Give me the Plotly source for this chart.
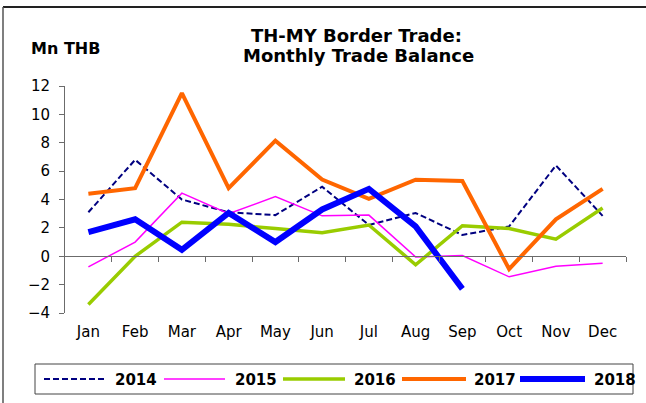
import plotly.graph_objects as go

# Monthly trade balance, TH-MY border trade (million THB)
months = ["Jan", "Feb", "Mar", "Apr", "May", "Jun",
          "Jul", "Aug", "Sep", "Oct", "Nov", "Dec"]
years = ["2014", "2015", "2016", "2017", "2018"]
bal_2014 = [3.1, 6.8, 4.0, 3.1, 2.9, 4.9, 2.2, 3.05, 1.5, 2.1, 6.4, 2.85]
bal_2015 = [-0.75, 1.0, 4.45, 3.0, 4.2, 2.85, 2.9, -0.05, 0.05, -1.45, -0.7, -0.5]
bal_2016 = [-3.4, 0.0, 2.4, 2.25, 1.95, 1.65, 2.2, -0.6, 2.15, 1.95, 1.2, 3.4]
bal_2017 = [4.4, 4.8, 11.5, 4.8, 8.15, 5.4, 4.05, 5.4, 5.3, -0.9, 2.6, 4.75]
bal_2018 = [1.7, 2.6, 0.45, 3.05, 1.0, 3.3, 4.75, 2.1, -2.3, None, None, None]
y_ticks = [-4, -2, 0, 2, 4, 6, 8, 10, 12]

series = [bal_2014, bal_2015, bal_2016, bal_2017, bal_2018]
styles = [
    dict(color="#000080", width=2, dash="6px,3px"),
    dict(color="#FF00FF", width=1.5, dash="solid"),
    dict(color="#99CC00", width=3.5, dash="solid"),
    dict(color="#FF6600", width=4, dash="solid"),
    dict(color="#0000FF", width=6, dash="solid"),
]

W, H = 646, 403
ML, MR, MT, MB = 65, 20, 86, 90
PW, PH = W - ML - MR, H - MT - MB
FONT = "DejaVu Sans, Arial, sans-serif"
AXIS = "#6b6b6b"


def px_x(px):
    return (px - ML) / PW


def px_y(py):
    return (H - MB - py) / PH


x_idx = list(range(len(months)))
fig = go.Figure()
for name, vals, st in zip(years, series, styles):
    fig.add_trace(go.Scatter(
        x=x_idx, y=vals, name=name, mode="lines",
        line=dict(color=st["color"], width=st["width"], dash=st["dash"]),
        connectgaps=False, showlegend=False, hoverinfo="skip",
    ))

y_min, y_max = y_ticks[0], y_ticks[-1]
zero_pos = (0 - y_min) / (y_max - y_min)

fig.update_layout(
    width=W, height=H,
    margin=dict(l=ML, r=MR, t=MT, b=MB, pad=0),
    paper_bgcolor="white", plot_bgcolor="white",
    font=dict(family=FONT, size=15, color="black"),
    showlegend=False,
    xaxis=dict(
        range=[-0.5, len(months) - 0.5], tickmode="array",
        tickvals=x_idx, ticktext=months, showgrid=False, zeroline=False,
        showline=False, ticks="", ticklabelstandoff=8,
        tickfont=dict(family=FONT, size=15, color="black"),
    ),
    # category separators along the zero line
    xaxis2=dict(
        overlaying="x", anchor="free", position=zero_pos, side="bottom",
        range=[-0.5, len(months) - 0.5], tickmode="array",
        tickvals=[i + 0.5 for i in x_idx], showticklabels=False,
        showgrid=False, zeroline=False, showline=True, linecolor=AXIS,
        linewidth=1, ticks="outside", ticklen=5, tickcolor=AXIS, tickwidth=1,
    ),
    yaxis=dict(
        range=[y_min, y_max], tickmode="array", tickvals=y_ticks,
        showgrid=False, zeroline=False, showline=True, linecolor=AXIS,
        linewidth=1, ticks="outside", ticklen=5, tickcolor=AXIS,
        ticklabelstandoff=6,
        tickfont=dict(family=FONT, size=15, color="black"),
    ),
)

# invisible trace so the separator axis is rendered
fig.add_trace(go.Scatter(x=[None], y=[None], xaxis="x2", showlegend=False,
                         hoverinfo="skip"))

shapes = []
annotations = []

# outer frame (top and left edges)
shapes.append(dict(type="line", xref="paper", yref="paper",
                   x0=px_x(3), x1=px_x(W + 5), y0=px_y(7), y1=px_y(7),
                   line=dict(color="#222222", width=2)))
shapes.append(dict(type="line", xref="paper", yref="paper",
                   x0=px_x(3), x1=px_x(3), y0=px_y(7), y1=px_y(H + 5),
                   line=dict(color="#555555", width=1.5)))

# title and unit label
annotations.append(dict(text="<b>TH-MY Border Trade:</b>", xref="paper", yref="paper",
                        x=px_x(356), y=px_y(35), xanchor="center", yanchor="middle",
                        showarrow=False, font=dict(family=FONT, size=18, color="black")))
annotations.append(dict(text="<b>Monthly Trade Balance</b>", xref="paper", yref="paper",
                        x=px_x(358), y=px_y(55), xanchor="center", yanchor="middle",
                        showarrow=False, font=dict(family=FONT, size=18, color="black")))
annotations.append(dict(text="<b>Mn THB</b>", xref="paper", yref="paper",
                        x=px_x(29), y=px_y(48), xanchor="left", yanchor="middle",
                        showarrow=False, font=dict(family=FONT, size=16, color="black")))

# legend box with long sample lines
shapes.append(dict(type="rect", xref="paper", yref="paper",
                   x0=px_x(35), x1=px_x(633), y0=px_y(394), y1=px_y(364),
                   line=dict(color="#444444", width=1), fillcolor="rgba(0,0,0,0)"))
leg_lines = [(44, 107), (164, 225), (283, 345), (402, 466), (520, 585)]
leg_text = [113, 233, 352, 472, 592]
leg_y = 379
for name, st, (lx0, lx1), tx in zip(years, styles, leg_lines, leg_text):
    shapes.append(dict(type="line", xref="paper", yref="paper",
                       x0=px_x(lx0), x1=px_x(lx1), y0=px_y(leg_y), y1=px_y(leg_y),
                       line=dict(color=st["color"], width=st["width"], dash=st["dash"])))
    annotations.append(dict(text=f"<b>{name}</b>", xref="paper", yref="paper",
                            x=px_x(tx), y=px_y(leg_y + 1), xanchor="left",
                            yanchor="middle", showarrow=False,
                            font=dict(family=FONT, size=15, color="black")))

fig.update_layout(shapes=shapes, annotations=annotations)
fig.write_html("out.html")
